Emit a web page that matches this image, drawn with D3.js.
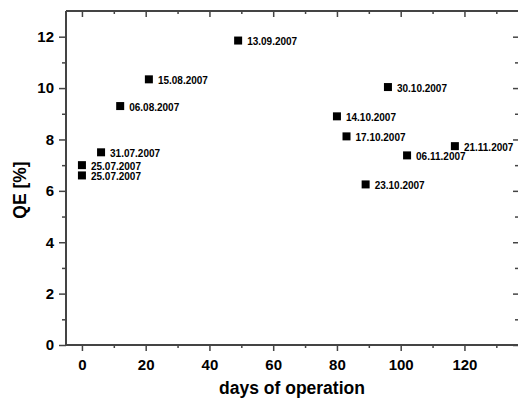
<!DOCTYPE html>
<html>
<head>
<meta charset="utf-8">
<script src="https://cdn.jsdelivr.net/npm/d3@7"></script>
<style>
  body { margin: 0; background: #fff; }
  svg { display: block; font-family: "Liberation Sans", Arial, sans-serif; }
</style>
</head>
<body>
<svg width="519" height="399"></svg>
<script>
// days of operation, QE in %, date of measurement
const days = [0, 0, 6, 12, 21, 49, 80, 83, 89, 96, 102, 117];
const qe = [7.0, 6.6, 7.5, 9.3, 10.34, 11.85, 8.9, 8.12, 6.25, 10.04, 7.38, 7.74];
const dates = ["25.07.2007", "25.07.2007", "31.07.2007", "06.08.2007", "15.08.2007", "13.09.2007",
               "14.10.2007", "17.10.2007", "23.10.2007", "30.10.2007", "06.11.2007", "21.11.2007"];

const xMajor = [0, 20, 40, 60, 80, 100, 120];
const xMinor = [10, 30, 50, 70, 90, 110, 130];
const yMajor = [0, 2, 4, 6, 8, 10, 12];
const yMinor = [1, 3, 5, 7, 9, 11];

const svg = d3.select("svg");
const pl = 66, pr = 518, pt = 11, pb = 345;

const x = d3.scaleLinear().domain([-5, 136.8]).range([pl, pr]);
const y = d3.scaleLinear().domain([0, 13]).range([pb, pt]);

const axisCol = "#444";

function styleAxis(g) {
  g.select(".domain").remove();
  g.selectAll("line").attr("stroke", axisCol).attr("stroke-width", 1.5);
  g.selectAll("text").attr("fill", "#000").attr("font-weight", "bold").attr("font-size", 15);
}

// bottom
svg.append("g").attr("transform", `translate(0,${pb})`)
  .call(d3.axisBottom(x).tickValues(xMajor).tickSize(6).tickPadding(8).tickFormat(d3.format("d")))
  .call(styleAxis);
svg.append("g").attr("transform", `translate(0,${pb})`)
  .call(d3.axisBottom(x).tickValues(xMinor).tickSize(3).tickFormat(""))
  .call(styleAxis);
// top (ticks inward)
svg.append("g").attr("transform", `translate(0,${pt})`)
  .call(d3.axisBottom(x).tickValues(xMajor).tickSize(6).tickFormat(""))
  .call(styleAxis);
svg.append("g").attr("transform", `translate(0,${pt})`)
  .call(d3.axisBottom(x).tickValues(xMinor).tickSize(3).tickFormat(""))
  .call(styleAxis);
// left
svg.append("g").attr("transform", `translate(${pl},0)`)
  .call(d3.axisLeft(y).tickValues(yMajor).tickSize(7).tickPadding(5).tickFormat(d3.format("d")))
  .call(styleAxis);
svg.append("g").attr("transform", `translate(${pl},0)`)
  .call(d3.axisLeft(y).tickValues(yMinor).tickSize(4).tickFormat(""))
  .call(styleAxis);
// right (ticks inward)
svg.append("g").attr("transform", `translate(${pr},0)`)
  .call(d3.axisLeft(y).tickValues(yMajor).tickSize(5).tickFormat(""))
  .call(styleAxis);
svg.append("g").attr("transform", `translate(${pr},0)`)
  .call(d3.axisLeft(y).tickValues(yMinor).tickSize(3).tickFormat(""))
  .call(styleAxis);

// frame lines
svg.append("line").attr("x1", pl).attr("x2", pr).attr("y1", pb).attr("y2", pb)
  .attr("stroke", axisCol).attr("stroke-width", 2);
svg.append("line").attr("x1", pl).attr("x2", pr).attr("y1", pt).attr("y2", pt)
  .attr("stroke", axisCol).attr("stroke-width", 2);
svg.append("line").attr("x1", pl).attr("x2", pl).attr("y1", pt).attr("y2", pb)
  .attr("stroke", axisCol).attr("stroke-width", 2);

// points
const pts = days.map((d, i) => ({ d: d, v: qe[i], lab: dates[i] }));
const sq = 8;
svg.append("g").selectAll("rect").data(pts).join("rect")
  .attr("x", d => x(d.d) - sq / 2)
  .attr("y", d => y(d.v) - sq / 2)
  .attr("width", sq).attr("height", sq)
  .attr("fill", "#000");

svg.append("g").selectAll("text").data(pts).join("text")
  .attr("x", d => x(d.d) + 9)
  .attr("y", d => y(d.v) + 4.5)
  .attr("font-size", 10).attr("font-weight", "bold")
  .text(d => d.lab);

// axis titles
svg.append("text").attr("x", 292).attr("y", 394)
  .attr("text-anchor", "middle").attr("font-size", 17.5).attr("font-weight", "bold")
  .text("days of operation");
svg.append("text")
  .attr("transform", "translate(26,190) rotate(-90)")
  .attr("text-anchor", "middle").attr("font-size", 17.5).attr("font-weight", "bold")
  .text("QE [%]");
</script>
</body>
</html>
